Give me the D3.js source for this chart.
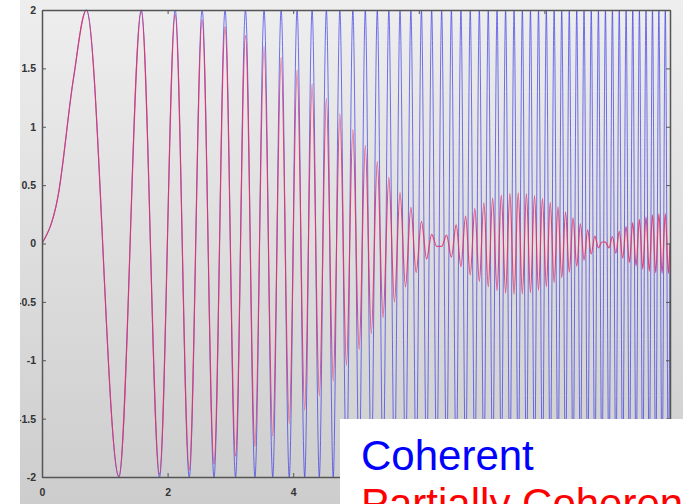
<!DOCTYPE html>
<html><head><meta charset="utf-8">
<script src="https://cdn.jsdelivr.net/npm/d3@7"></script>
<style>html,body{margin:0;padding:0;background:#fff;overflow:hidden}</style>
</head><body>
<svg id="c" width="683" height="504"></svg>
<script>
// x positions of the curve's turning points, plus start/end points
const xValues = [0, 0.25, 0.5,
0.707,1.225,1.581,1.871,2.121,2.345,2.550,2.739,2.915,3.082,
3.240,3.391,3.536,3.674,3.808,3.937,4.062,4.183,4.301,4.416,
4.528,4.637,4.743,4.848,4.950,5.050,5.148,5.244,5.339,5.431,
5.523,5.612,5.701,5.788,5.874,5.958,6.042,6.124,6.205,6.285,
6.364,6.442,6.519,6.595,6.671,6.745,6.819,6.892,6.964,7.036,
7.106,7.176,7.246,7.314,7.382,7.450,7.517,7.583,7.649,7.714,
7.778,7.842,7.906,7.969,8.031,8.093,8.155,8.216,8.276,8.337,
8.396,8.456,8.515,8.573,8.631,8.689,8.746,8.803,8.860,8.916,
8.972,9.028,9.083,9.138,9.192,9.247,9.301,9.354,9.407,9.460,
9.513,9.566,9.618,9.670,9.721,9.772,9.823,9.874,9.925,9.975,
10];
// Coherent (blue) values at those points
const coherent = [0, 0.39, 1.41,
2,-2,2,-2,2,-2,2,-2,2,-2,
2,-2,2,-2,2,-2,2,-2,2,-2,
2,-2,2,-2,2,-2,2,-2,2,-2,
2,-2,2,-2,2,-2,2,-2,2,-2,
2,-2,2,-2,2,-2,2,-2,2,-2,
2,-2,2,-2,2,-2,2,-2,2,-2,
2,-2,2,-2,2,-2,2,-2,2,-2,
2,-2,2,-2,2,-2,2,-2,2,-2,
2,-2,2,-2,2,-2,2,-2,2,-2,
2,-2,2,-2,2,-2,2,-2,2,-2,
0];
// Partially coherent (red) values at those points
const partial = [0, 0.39, 1.41,
2.000,-1.995,1.987,-1.975,1.959,-1.938,1.914,-1.886,1.855,-1.820,
1.781,-1.739,1.694,-1.646,1.595,-1.541,1.486,-1.427,1.367,-1.305,
1.241,-1.176,1.110,-1.043,0.975,-0.907,0.838,-0.770,0.702,-0.634,
0.567,-0.500,0.435,-0.371,0.309,-0.248,0.189,-0.132,0.078,-0.025,
-0.025,0.072,-0.117,0.159,-0.198,0.234,-0.268,0.298,-0.325,0.349,
-0.370,0.388,-0.403,0.415,-0.424,0.430,-0.434,0.434,-0.432,0.428,
-0.421,0.411,-0.400,0.386,-0.370,0.353,-0.334,0.314,-0.292,0.269,
-0.245,0.220,-0.195,0.169,-0.143,0.117,-0.090,0.064,-0.038,0.013,
0.012,-0.037,0.060,-0.083,0.104,-0.125,0.144,-0.162,0.178,-0.193,
0.207,-0.219,0.229,-0.238,0.245,-0.250,0.254,-0.256,0.257,-0.256,
0];
const xTicks = [0, 2, 4, 6, 8, 10];
const xTickLabels = ["0", "2", "4", "", "", ""]; // 6, 8, 10 lie under the legend box
const yTicks = [-2, -1.5, -1, -0.5, 0, 0.5, 1, 1.5, 2];
const legendLabels = ["Coherent", "Partially Coherent"];

const svg = d3.select("#c");
const W = 683, H = 504;
const L = 42, R = 670, T = 10, B = 477;

const defs = svg.append("defs");
const grad = defs.append("linearGradient").attr("id","bg").attr("x1",0).attr("y1",0).attr("x2",0).attr("y2",1);
grad.append("stop").attr("offset","0%").attr("stop-color","#eeeeee");
grad.append("stop").attr("offset","100%").attr("stop-color","#cdcdcd");
defs.append("clipPath").attr("id","plotclip").append("rect")
  .attr("x", L).attr("y", T - 1).attr("width", R - L).attr("height", B - T + 2);

svg.append("rect").attr("x",0).attr("y",0).attr("width",W).attr("height",H).attr("fill","url(#bg)");

const x = d3.scaleLinear().domain([0,10]).range([L,R]);
const y = d3.scaleLinear().domain([-2,2]).range([B,T]);

const line = (vals) => d3.line()
  .x((d,i) => x(xValues[i]))
  .y((d,i) => y(vals[i]))
  .curve(d3.curveMonotoneX)(vals);

const g = svg.append("g").attr("clip-path","url(#plotclip)");
g.append("path").attr("d", line(coherent)).attr("fill","none")
  .attr("stroke","#3a3ae6").attr("stroke-width",1).attr("stroke-opacity",0.7);
g.append("path").attr("d", line(partial)).attr("fill","none")
  .attr("stroke","#e0306a").attr("stroke-width",1.2).attr("stroke-opacity",0.85);

// axes (box style, ticks inward)
function styleAxis(sel, showLabels){
  sel.select(".domain").attr("stroke","#555").attr("stroke-width",1.5);
  sel.selectAll(".tick line").attr("stroke","#555").attr("stroke-width",1);
  sel.selectAll(".tick text").attr("fill","#333")
    .attr("font-family","Liberation Sans, Arial, sans-serif")
    .attr("font-weight","bold").attr("font-size","10.5px")
    .style("display", showLabels ? null : "none");
}
svg.append("g").attr("transform",`translate(0,${B})`)
  .call(d3.axisBottom(x).tickValues(xTicks).tickSize(-4).tickPadding(12)
    .tickFormat((d,i) => xTickLabels[i]).tickSizeOuter(0))
  .call(s => styleAxis(s, true));
svg.append("g").attr("transform",`translate(0,${T})`)
  .call(d3.axisTop(x).tickValues(xTicks).tickSize(-4).tickSizeOuter(0))
  .call(s => styleAxis(s, false));
svg.append("g").attr("transform",`translate(${L},0)`)
  .call(d3.axisLeft(y).tickValues(yTicks).tickSize(-4).tickPadding(6).tickFormat(d => String(d)).tickSizeOuter(0))
  .call(s => styleAxis(s, true));
svg.append("g").attr("transform",`translate(${R},0)`)
  .call(d3.axisRight(y).tickValues(yTicks).tickSize(-4).tickSizeOuter(0))
  .call(s => styleAxis(s, false));

// white strip on the far left (image crop)
svg.append("rect").attr("x",0).attr("y",0).attr("width",20).attr("height",H).attr("fill","#fff");

// legend box
svg.append("rect").attr("x",340).attr("y",419).attr("width",W-340).attr("height",H-419).attr("fill","#fff");
const legColors = ["#0000ff", "#ff0000"];
svg.selectAll(".leg").data(legendLabels).enter().append("text")
  .attr("x", 361).attr("y", (d,i) => 470 + i*48)
  .attr("fill", (d,i) => legColors[i])
  .attr("font-family","Liberation Sans, Arial, sans-serif")
  .attr("font-size","42px")
  .text(d => d);
</script>
</body></html>
